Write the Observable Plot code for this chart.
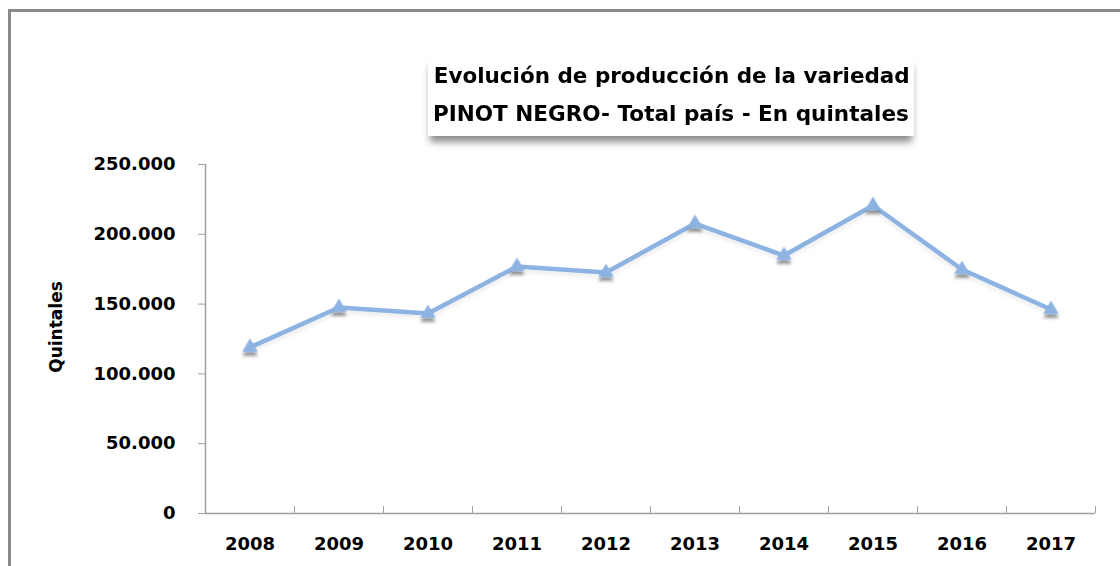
<!DOCTYPE html>
<html>
<head>
<meta charset="utf-8">
<script src="https://cdn.jsdelivr.net/npm/d3@7"></script>
<script src="https://cdn.jsdelivr.net/npm/@observablehq/plot@0.6"></script>
<style>
  html, body { margin: 0; padding: 0; background: #fff; overflow: hidden; }
  #wrap { position: relative; width: 1120px; height: 566px; overflow: hidden; font-family: "DejaVu Sans", sans-serif; }
  #border { position: absolute; left: 8px; top: 9px; width: 1300px; height: 800px; border: 3px solid #8a8a8a; box-sizing: border-box; }
  #chart { position: absolute; left: 0; top: 0; }
  #title { position: absolute; left: 428px; top: 56px; width: 486px; height: 80px; background: #fff;
           box-shadow: 0 8px 7px -2px rgba(0,0,0,0.45); font-weight: bold; font-size: 22px; line-height: 38px;
           color: #000; text-align: center; padding-top: 1px; box-sizing: border-box; }
  #title div { white-space: nowrap; display: inline-block; }
</style>
</head>
<body>
<div id="wrap">
  <div id="border"></div>
  <div id="chart"></div>
  <div id="title"><div id="t1">Evolución de producción de la variedad</div><br><div id="t2">PINOT NEGRO- Total país - En quintales</div></div>
</div>
<script>
const years = [2008, 2009, 2010, 2011, 2012, 2013, 2014, 2015, 2016, 2017];
const quintales = [119000, 147600, 143300, 176900, 172600, 207700, 184800, 220600, 174800, 146100];
const yTicks = [0, 50000, 100000, 150000, 200000, 250000];
const yTickLabels = ["0", "50.000", "100.000", "150.000", "200.000", "250.000"];
const yLabel = "Quintales";

const data = years.map((y, i) => ({year: y, value: quintales[i]}));
const boundaries = [years[0] - 0.5, ...years.map(y => y + 0.5)];
const lineColor = "#8db3e2";
const axisGray = "#a0a0a0";

const plot = Plot.plot({
  width: 1120,
  height: 566,
  marginLeft: 205,
  marginRight: 25,
  marginTop: 164,
  marginBottom: 53,
  style: {background: "transparent", fontFamily: "DejaVu Sans, sans-serif", overflow: "visible"},
  x: {type: "linear", domain: [years[0] - 0.5, years[years.length - 1] + 0.5]},
  y: {domain: [0, 250000]},
  marks: [
    Plot.axisY({ticks: yTicks, tickFormat: d => yTickLabels[yTicks.indexOf(d)], tickSize: 7, tickPadding: 23,
                stroke: axisGray, fill: "#000", fontSize: 18, fontWeight: "bold", label: null}),
    Plot.axisX({ticks: years, tickFormat: d => String(d), tickSize: 0, tickPadding: 24,
                fill: "#000", fontSize: 18, fontWeight: "bold", label: null}),
    Plot.axisX({ticks: boundaries, tickFormat: () => "", tickSize: -7, stroke: axisGray, label: null}),
    Plot.ruleY([0], {stroke: axisGray, strokeWidth: 1.5}),
    Plot.ruleX([years[0] - 0.5], {stroke: axisGray, strokeWidth: 1.5}),
    Plot.line(data, {x: "year", y: "value", stroke: lineColor, strokeWidth: 4.5, strokeLinejoin: "round"}),
    Plot.dot(data, {x: "year", y: "value", symbol: "triangle", r: 5.8, fill: lineColor, stroke: "none"}),
    Plot.text([yLabel], {frameAnchor: "left", textAnchor: "middle", dx: -149, dy: -12, rotate: -90, fontSize: 17, fontWeight: "bold", fill: "#000"})
  ]
});
document.getElementById("chart").appendChild(plot);

// drop shadow for markers (and a faint one for the line)
const svg = d3.select(plot);
const defs = svg.insert("defs", ":first-child");
const f = defs.append("filter").attr("id", "sh").attr("x", "-50%").attr("y", "-50%").attr("width", "200%").attr("height", "200%");
f.append("feDropShadow").attr("dx", 0).attr("dy", 4).attr("stdDeviation", 1.8).attr("flood-color", "#000").attr("flood-opacity", 0.4);
const f2 = defs.append("filter").attr("id", "sh2").attr("x", "-10%").attr("y", "-20%").attr("width", "120%").attr("height", "140%");
f2.append("feDropShadow").attr("dx", 0).attr("dy", 3).attr("stdDeviation", 2).attr("flood-color", "#000").attr("flood-opacity", 0.08);
svg.selectAll('g[aria-label="dot"]').attr("filter", "url(#sh)");
svg.selectAll('g[aria-label="line"]').attr("filter", "url(#sh2)");

// fit title lines to the reference width
for (const id of ["t1", "t2"]) {
  const el = document.getElementById(id);
  const w = el.getBoundingClientRect().width;
  const target = 476;
  el.style.transform = `scaleX(${target / w})`;
}
</script>
</body>
</html>
